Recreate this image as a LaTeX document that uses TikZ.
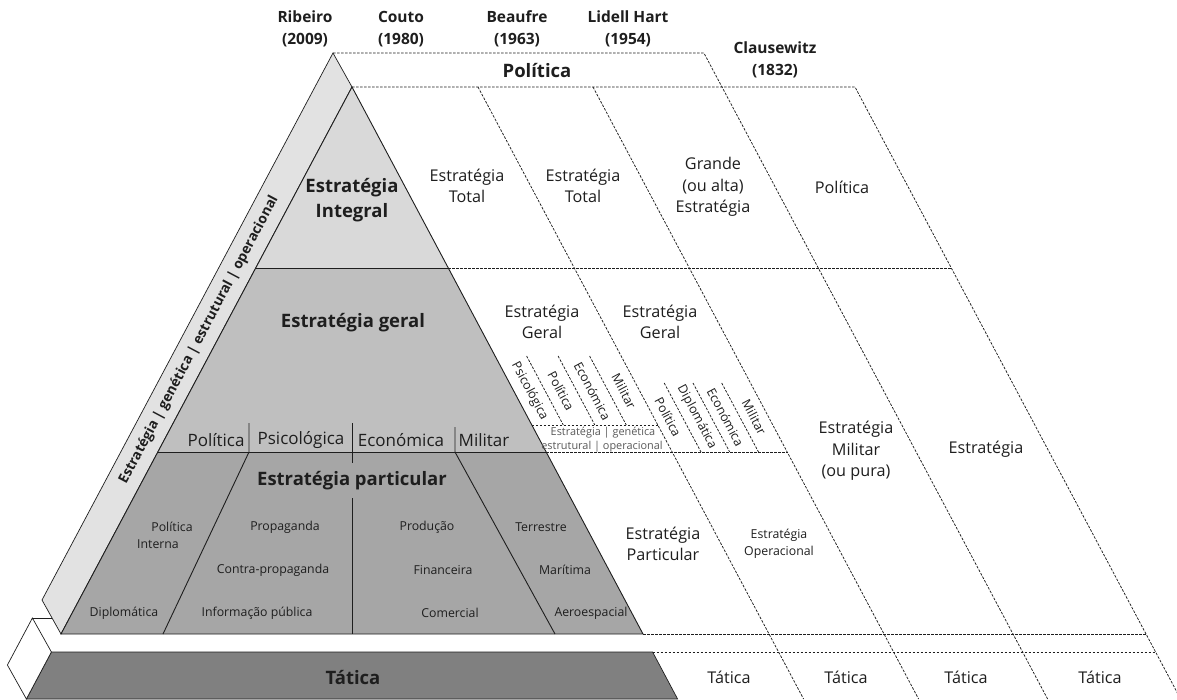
\documentclass[tikz,border=0pt]{standalone}
\usepackage{fontspec}
\setmainfont{Open Sans}
\definecolor{stripg}{RGB}{226,226,226}
\definecolor{intg}{RGB}{217,217,217}
\definecolor{gerg}{RGB}{191,191,191}
\definecolor{partg}{RGB}{166,166,166}
\definecolor{tatg}{RGB}{128,128,128}
\definecolor{ink}{RGB}{30,30,30}
\begin{document}
\begin{tikzpicture}[x=1pt,y=-1pt,
  dline/.style={dash pattern=on 2.6pt off 1.4pt, line width=0.75pt, ink},
  sline/.style={line width=0.9pt, ink},
  hdr/.style={font=\fontsize{15.5}{22}\selectfont\bfseries, align=center, text=ink, inner sep=0pt},
  bigb/.style={font=\fontsize{18.5}{25}\selectfont\bfseries, align=center, text=ink, inner sep=0pt},
  cell/.style={font=\fontsize{16.2}{21.5}\selectfont, align=center, text=ink, inner sep=0pt},
  sublab/.style={font=\fontsize{17}{20}\selectfont, text=ink, inner sep=0pt},
  small/.style={font=\fontsize{12.3}{14}\selectfont, text=ink, inner sep=0pt},
  rot/.style={font=\fontsize{12.5}{14}\selectfont, text=ink, inner sep=0pt, rotate=-62},
  tiny/.style={font=\fontsize{10.9}{12}\selectfont, text=black!65, inner sep=0pt}]
\useasboundingbox (0,0) rectangle (1177,699);
\clip (0,0) rectangle (1177,699);

% side strip of the pyramid
\filldraw[fill=stripg, draw=ink, line width=0.7pt] (333,53) -- (352,87) -- (61,634) -- (42,600) -- cycle;

% pyramid bands
\fill[intg] (352,87) -- (448.3,268) -- (255.7,268) -- cycle;
\fill[gerg] (255.7,268) -- (448.3,268) -- (546.2,452) -- (157.8,452) -- cycle;
\fill[partg] (157.8,452) -- (546.2,452) -- (643,634) -- (61,634) -- cycle;
\draw[sline] (352,87) -- (643,634) -- (61,634) -- cycle;
\draw[sline] (255.7,268) -- (448.3,268);
\draw[sline] (157.8,452) -- (546.2,452);

% separators
\draw[sline] (249,423) -- (249,452) -- (163,634);
\draw[sline] (352,423) -- (352,463);
\draw[sline] (352,498) -- (352,634);
\draw[sline] (455,427) -- (455,452) -- (555,634);

% tactic slab
\filldraw[fill=tatg, draw=ink, line width=0.7pt] (51.4,652) -- (652.6,652) -- (677.6,699) -- (26.4,699) -- cycle;
\filldraw[fill=white, draw=ink, line width=0.7pt] (32.4,618) -- (7.4,665) -- (26.4,699) -- (51.4,652) -- cycle;
\draw[line width=0.7pt, ink] (32.4,618) -- (52,618);

% dashed grid
\draw[dline] (333,53) -- (703.9,53) -- (1047.6,699);
\draw[dline] (352,87) -- (855,87) -- (1180.6,699);
\draw[dline] (478,87) -- (803.6,699);
\draw[dline] (593,87) -- (918.6,699);
\draw[dline] (448.3,268) -- (951.3,268);
\draw[dline] (531.8,425) -- (657.8,425);
\draw[dline] (546.2,452) -- (787.2,452);
\draw[dline] (643,634) -- (1146,634);
\draw[dline] (652.6,652) -- (1155.6,652);
% sub-columns
\draw[dline] (526.6,356) -- (563.3,425);
\draw[dline] (558.1,356) -- (594.8,425);
\draw[dline] (589.6,356) -- (626.3,425);
\draw[dline] (664.2,383) -- (701,452);
\draw[dline] (693,383) -- (729.7,452);
\draw[dline] (721.7,383) -- (758.5,452);

% headers
\node[hdr] (rib) at (305,29) {Ribeiro\\(2009)};
\node[hdr] (cou) at (401,29) {Couto\\(1980)};
\node[hdr] (bea) at (517,29) {Beaufre\\(1963)};
\node[hdr] (lid) at (628,29) {Lidell Hart\\(1954)};
\node[hdr] (cla) at (775,60) {Clausewitz\\(1832)};
\node[bigb] (pol) at (537,71) {Política};

% strip text
\node[font=\fontsize{13.8}{16}\selectfont\bfseries, text=ink, inner sep=0pt, rotate=62] (strip) at (199,340) {Estratégia | genética | estrutural | operacional};

% pyramid texts
\node[bigb] (integ) at (352,200) {Estratégia\\Integral};
\node[bigb] (geral) at (353,323) {Estratégia geral};
\node[sublab] (s1) at (216,440) {Política};
\node[sublab] (s2) at (301,440) {Psicológica};
\node[sublab] (s3) at (401,440) {Económica};
\node[sublab] (s4) at (484,440) {Militar};
\node[bigb, fill=partg, inner xsep=3pt, inner ysep=2pt] (partic) at (352,481) {Estratégia particular};

\node[small] (p1) at (172,527) {Política};
\node[small] (p2) at (158,544) {Interna};
\node[small] (p3) at (124,613) {Diplomática};
\node[small] (p4) at (285,527) {Propaganda};
\node[small] (p5) at (273,570) {Contra-propaganda};
\node[small] (p6) at (257,613) {Informação pública};
\node[small] (p7) at (427,527) {Produção};
\node[small] (p8) at (443,570) {Financeira};
\node[small] (p9) at (450,613) {Comercial};
\node[small] (p10) at (541,527) {Terrestre};
\node[small] (p11) at (565,570) {Marítima};
\node[small] (p12) at (591,613) {Aeroespacial};

\node[bigb] (tat) at (353,677) {Tática};

% right cells
\node[cell] (c1) at (467,186) {Estratégia\\Total};
\node[cell] (c2) at (583,186) {Estratégia\\Total};
\node[cell] (c3) at (713,187) {Grande\\(ou alta)\\Estratégia};
\node[cell] (c4) at (842,187) {Política};
\node[cell] (c5) at (542,322) {Estratégia\\Geral};
\node[cell] (c6) at (660,322) {Estratégia\\Geral};
\node[cell] (c7) at (856,451) {Estratégia\\Militar\\(ou pura)};
\node[cell] (c8) at (986,449) {Estratégia};
\node[cell] (c9) at (663,544) {Estratégia\\Particular};
\node[small, align=center, font=\fontsize{12.3}{17.5}\selectfont] (c10) at (779,544) {Estratégia\\Operacional};
\node[cell] (t1) at (729,677) {Tática};
\node[cell] (t2) at (846,677) {Tática};
\node[cell] (t3) at (966,677) {Tática};
\node[cell] (t4) at (1100,677) {Tática};

% rotated sub-labels
\node[rot] (r1) at (529.5,391) {Psicológica};
\node[rot] (r2) at (561,391) {Política};
\node[rot] (r3) at (592.5,391) {Económica};
\node[rot] (r4) at (624,391) {Militar};
\node[rot] (r5) at (668,417) {Política};
\node[rot] (r6) at (696.7,417) {Diplomática};
\node[rot] (r7) at (725.5,417) {Económica};
\node[rot] (r8) at (754.2,417) {Militar};

\node[tiny] (g1) at (603,433) {Estratégia | genética};
\node[tiny] (g2) at (602,447) {estrutural | operacional};
\end{tikzpicture}
\end{document}
